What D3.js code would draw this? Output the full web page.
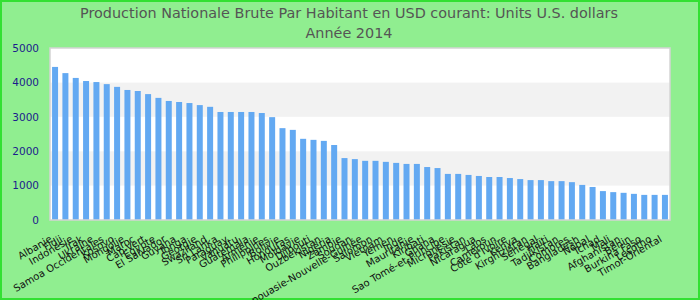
<!DOCTYPE html>
<html>
<head>
<meta charset="utf-8">
<script src="https://cdn.jsdelivr.net/npm/d3@7"></script>
<style>
  body { margin: 0; }
  #chart { width: 700px; height: 300px; }
</style>
</head>
<body>
<div id="chart"></div>
<script>
const titleLines = ["Production Nationale Brute Par Habitant en USD courant: Units U.S. dollars", "Année 2014"];

const countries = [
  "Albanie", "Fidji", "Indonésie", "Irak", "Ukraine", "Samoa Occidentales", "Kosovo", "Mongolie",
  "Maroc", "Cap-Vert", "Egypte", "El Salvador", "Guyana", "Tonga", "Géorgie", "Swaziland",
  "Sri Lanka", "Paraguay", "Vanuatu", "Guatemala", "Arménie", "Philippines", "Bolivie", "Honduras",
  "Moldavie", "Djibouti", "Ouzbékistan", "Nigéria", "Zambie", "Soudan", "Papouasie-Nouvelle-Guinée", "Salomon",
  "Vietnam", "Yémen", "Inde", "Mauritanie", "Kiribati", "Ghana", "Sao Tomé-et-Principe", "Micronésie",
  "Pakistan", "Nicaragua", "Laos", "Cameroun", "Côte d'Ivoire", "Kenya", "Kirghizistan", "Sénégal",
  "Haïti", "Tadjikistan", "Comores", "Bangladesh", "Népal", "Tchad", "Mali", "Afghanistan",
  "Bénin", "Burkina Faso", "Lesotho", "Timor-Oriental"
];

const values = [
  4450, 4270, 4130, 4040, 4010, 3950, 3870, 3780,
  3750, 3660, 3550, 3460, 3430, 3400, 3340, 3290,
  3140, 3140, 3140, 3140, 3110, 2990, 2670, 2620,
  2360, 2330, 2300, 2180, 1800, 1770, 1720, 1720,
  1690, 1660, 1630, 1630, 1540, 1510, 1340, 1340,
  1310, 1280, 1250, 1250, 1220, 1190, 1160, 1160,
  1130, 1130, 1100, 1020, 960, 840, 810, 790,
  760, 730, 730, 730
];

const yTicks = [0, 1000, 2000, 3000, 4000, 5000];

const width = 700, height = 300;
const margin = { top: 48, right: 30, bottom: 80, left: 50 };
const w = width - margin.left - margin.right;
const h = height - margin.top - margin.bottom;

const svg = d3.select("#chart").append("svg").attr("width", width).attr("height", height);

// background + outer border
svg.append("rect").attr("x", 1).attr("y", 1).attr("width", width - 2).attr("height", height - 2)
   .attr("fill", "#90ee90").attr("stroke", "#33e033").attr("stroke-width", 2);

// title
svg.append("g").selectAll("text")
   .data(titleLines)
   .enter()
   .append("text")
   .attr("x", 349)
   .attr("y", function(d, i) { return 18 + i * 20; })
   .attr("text-anchor", "middle")
   .attr("font-family", "DejaVu Sans")
   .attr("font-size", 14.4)
   .attr("fill", "#555")
   .text(function(d) { return d; });

const g = svg.append("g").attr("transform", "translate(" + margin.left + "," + margin.top + ")");

const x = d3.scaleBand().domain(countries).range([0, w]).paddingInner(0.42).paddingOuter(0.2);
const y = d3.scaleLinear().domain([0, 5000]).range([h, 0]);

// plot background with alternating bands
g.append("rect").attr("width", w).attr("height", h).attr("fill", "#fff");
g.selectAll("band")
  .data(yTicks.slice(0, -1))
  .enter()
  .append("rect")
  .attr("x", 0)
  .attr("width", w)
  .attr("y", function(d) { return y(d + 1000); })
  .attr("height", function(d) { return y(d) - y(d + 1000); })
  .attr("fill", function(d, i) { return i % 2 ? "#f2f2f2" : "#fff"; });

// y axis labels
const yAxis = g.append("g").call(d3.axisLeft(y).tickValues(yTicks).tickFormat(d3.format("d")).tickSize(0).tickPadding(11));
yAxis.select(".domain").remove();
yAxis.selectAll("text").attr("font-family", "DejaVu Sans").attr("font-size", 10.5).attr("fill", "#1c1c8c");

// bars
g.selectAll("bars")
  .data(countries)
  .enter()
  .append("rect")
  .attr("x", function(d) { return x(d); })
  .attr("y", function(d, i) { return y(values[i]); })
  .attr("width", x.bandwidth())
  .attr("height", function(d, i) { return h - y(values[i]); })
  .attr("fill", "#63a9f2");

// plot border
g.append("rect").attr("width", w).attr("height", h).attr("fill", "none").attr("stroke", "#d4d4d4").attr("stroke-width", 1.5);

// x axis labels
const xAxis = g.append("g").attr("transform", "translate(0," + h + ")").call(d3.axisBottom(x).tickSize(0).tickPadding(0));
xAxis.select(".domain").remove();
xAxis.selectAll("text")
  .attr("font-family", "DejaVu Sans")
  .attr("font-size", 10)
  .attr("fill", "#111")
  .attr("text-anchor", "end")
  .attr("y", 0)
  .attr("dy", "0.35em")
  .attr("transform", "translate(-4,18) rotate(-30)");
</script>
</body>
</html>
